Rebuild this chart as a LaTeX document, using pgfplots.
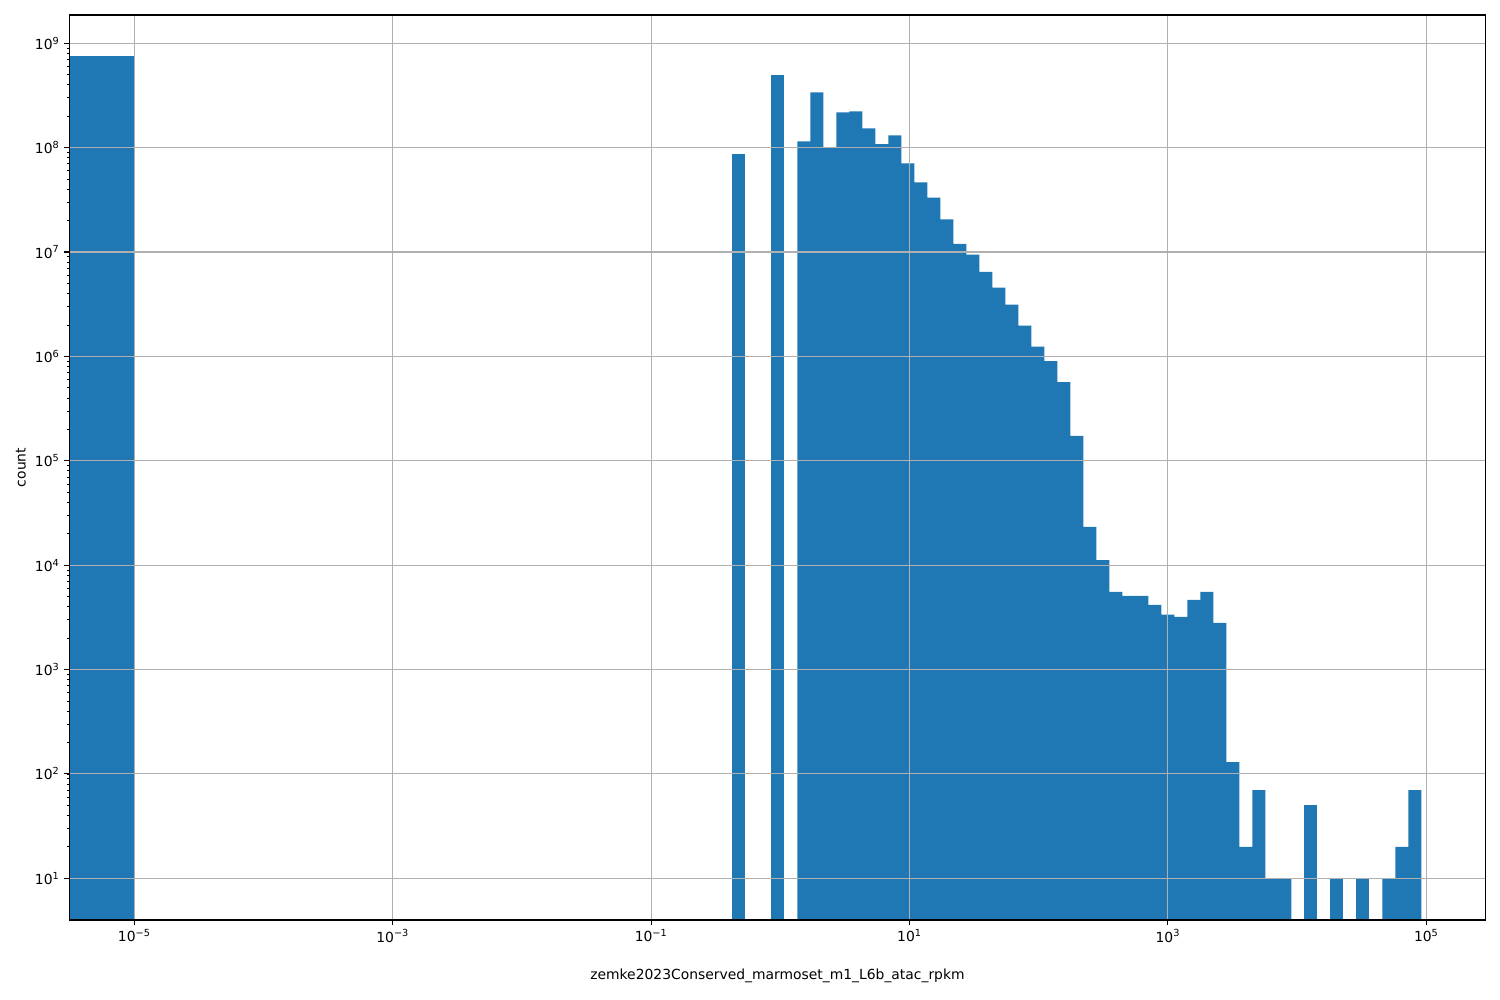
\documentclass[border=0pt]{standalone}
\usepackage{fontspec}
\setmainfont{DejaVu Sans}
\usepackage{pgfplots}
\usepackage{pgfplotstable}
\pgfplotsset{compat=1.18}

\definecolor{barblue}{HTML}{1F77B4}
\definecolor{gridgray}{HTML}{B0B0B0}

% histogram bins: left edge, count
% (last row of a group only gives the right edge; its count is unused but must be >0 for log y)
\pgfplotstableread{
edge count
1.3533 1.15e8
1.7062 3.39e8
2.1510 9.9e7
2.7118 2.18e8
3.4189 2.23e8
4.3102 1.53e8
5.4339 1.08e8
6.8507 1.31e8
8.6364 7.07e7
10.888 4.65e7
13.727 3.33e7
17.306 2.06e7
21.818 1.20e7
27.506 9.43e6
34.677 6.47e6
43.718 4.55e6
55.115 3.13e6
69.485 1.97e6
87.600 1.24e6
110.44 9.02e5
139.23 5.68e5
175.53 1.73e5
221.30 2.33e4
279.00 1.12e4
351.73 5550
443.43 5080
559.04 5080
704.79 4170
888.52 3350
1120.2 3200
1412.2 4650
1780.4 5550
2244.6 2800
2829.7 130
3567.5 20
4497.6 70
5670.1 10
7148.5 10
9012.1 1
}\mainbins

\pgfplotstableread{
edge count
45620 10
57514 20
72510 70
91416 1
}\tailbins

\begin{document}
\fontsize{10}{12}\selectfont
\begin{tikzpicture}
\begin{axis}[
    scale only axis,
    width=1019.8pt, height=651.6pt,
    xmode=log, ymode=log,
    xmin=3.14e-6, xmax=2.88e5,
    ymin=3.986, ymax=1.867e9,
    axis on top,
    grid=major,
    major grid style={gridgray, line width=0.8pt},
    axis line style={line width=0.8pt},
    tick align=outside,
    xtick pos=left, ytick pos=left,
    major tick length=3.5pt, minor tick length=2pt,
    every tick/.style={black, line width=0.8pt},
    minor tick style={black, line width=0.6pt},
    xminorticks=false,
    xtick={1e-5,1e-3,1e-1,1e1,1e3,1e5},
    xticklabels={10\textsuperscript{−5},10\textsuperscript{−3},10\textsuperscript{−1},10\textsuperscript{1},10\textsuperscript{3},10\textsuperscript{5}},
    ytick={1e1,1e2,1e3,1e4,1e5,1e6,1e7,1e8,1e9},
    yticklabels={10\textsuperscript{1},10\textsuperscript{2},10\textsuperscript{3},10\textsuperscript{4},10\textsuperscript{5},10\textsuperscript{6},10\textsuperscript{7},10\textsuperscript{8},10\textsuperscript{9}},
    xlabel={zemke2023Conserved\_marmoset\_m1\_L6b\_atac\_rpkm},
    ylabel={count},
    xlabel style={at={(axis description cs:0.5,-0.0663)}, anchor=base},
    ylabel style={at={(axis description cs:-0.0308,0.5)}, rotate=0, anchor=base},
]
\addplot[ybar interval, fill=barblue, draw=none] coordinates {(1e-6,7.55e8) (1e-5,1)};
\addplot[ybar interval, fill=barblue, draw=none] coordinates {(0.4250,8.77e7) (0.5357,1)};
\addplot[ybar interval, fill=barblue, draw=none] coordinates {(0.8515,4.93e8) (1.0735,1)};
\addplot[ybar interval, fill=barblue, draw=none] table[x=edge, y=count] {\mainbins};
\addplot[ybar interval, fill=barblue, draw=none] coordinates {(11362,50) (14324,1)};
\addplot[ybar interval, fill=barblue, draw=none] coordinates {(18058,10) (22767,1)};
\addplot[ybar interval, fill=barblue, draw=none] coordinates {(28702,10) (36186,1)};
\addplot[ybar interval, fill=barblue, draw=none] table[x=edge, y=count] {\tailbins};
\end{axis}
\path (-49.9pt,-57.6pt) rectangle (1030.1pt,662.4pt);
\end{tikzpicture}
\end{document}
